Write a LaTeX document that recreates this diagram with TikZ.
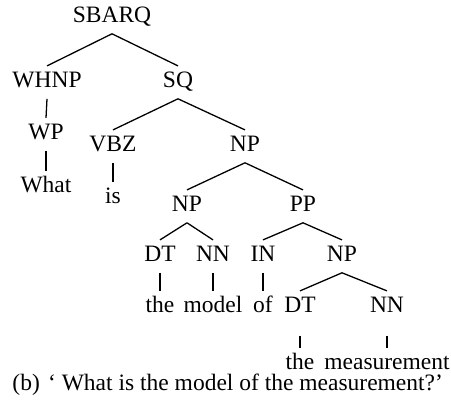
\documentclass[tikz,border=0pt]{standalone}
\usepackage{fontspec}
\setmainfont{Liberation Serif}
\begin{document}
\begin{tikzpicture}[x=0.4255pt, y=-0.4255pt,
    cat/.style={anchor=base, inner xsep=2pt, inner ysep=0pt, text height=9.2pt, text depth=4.4pt},
    edge/.style={line width=0.55pt}]
        \useasboundingbox (0,0) rectangle (451,407);

        \node[cat] (sbarq) at (112,23) {SBARQ};

        \node[cat] (whnp) at (47,88) {WHNP};
        \node[cat] (sq) at (178,88) {SQ};

        \node[cat] (wp) at (46,140) {WP};
        \node[cat] (what) at (46,193) {What};

        \node[cat] (vbz) at (113,152) {VBZ};
        \node[cat] (is) at (113,204) {is};
        \node[cat] (np) at (245,152) {NP};

        \node[cat] (npl) at (187,212) {NP};
        \node[cat] (pp) at (303,212) {PP};

        \node[cat] (dtl) at (160,262) {DT};
        \node[cat] (nnl) at (213,262) {NN};
        \node[cat] (in) at (263,262) {IN};
        \node[cat] (npr) at (342,262) {NP};

        \node[cat] (thel) at (160,313) {the};
        \node[cat] (model) at (213,313) {model};
        \node[cat] (of) at (263,313) {of};
        \node[cat] (dtr) at (300,313) {DT};
        \node[cat] (nnr) at (387,313) {NN};

        \node[cat] (ther) at (300,370) {the};
        \node[cat] (meas) at (387,370) {measurement};

        \node[anchor=base west, inner sep=0pt] (caption) at (12,391) {(b)\hspace{0.35em}‘ What is the model of the measurement?’};

        \draw[edge] (sbarq.south) -- (whnp.north);
        \draw[edge] (sbarq.south) -- (sq.north);
        \draw[edge] (whnp.south) -- (wp.north);
        \draw[edge] (wp.south) -- (what.north);
        \draw[edge] (sq.south) -- (vbz.north);
        \draw[edge] (sq.south) -- (np.north);
        \draw[edge] (vbz.south) -- (is.north);
        \draw[edge] (np.south) -- (npl.north);
        \draw[edge] (np.south) -- (pp.north);
        \draw[edge] (npl.south) -- (dtl.north);
        \draw[edge] (npl.south) -- (nnl.north);
        \draw[edge] (pp.south) -- (in.north);
        \draw[edge] (pp.south) -- (npr.north);
        \draw[edge] (dtl.south) -- (thel.north);
        \draw[edge] (nnl.south) -- (model.north);
        \draw[edge] (in.south) -- (of.north);
        \draw[edge] (npr.south) -- (dtr.north);
        \draw[edge] (npr.south) -- (nnr.north);
        \draw[edge, shorten <=5pt] (dtr.south) -- (ther.north);
        \draw[edge, shorten <=5pt] (nnr.south) -- (meas.north);

    \end{tikzpicture}
\end{document}
